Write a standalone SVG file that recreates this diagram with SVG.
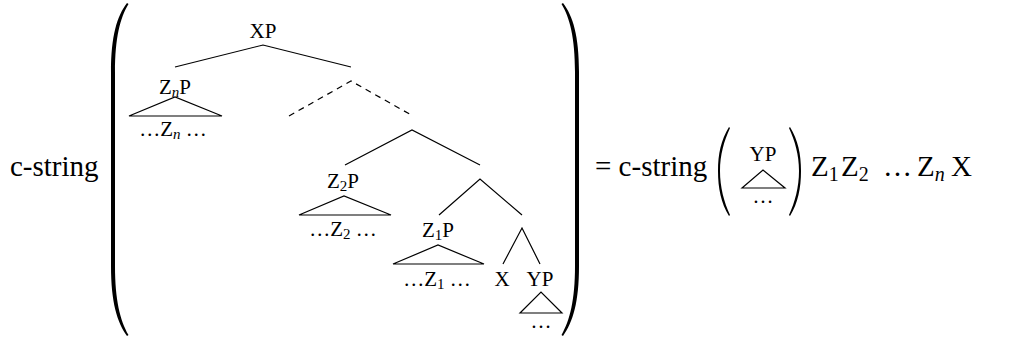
<svg xmlns="http://www.w3.org/2000/svg" width="1014" height="340" viewBox="0 0 1014 340">
<style>
.big{font-size:29px}
.lab{font-size:21px}
.sub{font-size:15px}
.bsub{font-size:20px}
.e{stroke:#000;stroke-width:1.2;fill:none}
.d{stroke:#000;stroke-width:1.2;fill:none;stroke-dasharray:6,5}
.paren{fill:#000;stroke:none}
</style>
<rect width="1014" height="340" fill="#fff"/>
<g font-family="Liberation Serif, Times New Roman, serif" fill="#000">
<g id="lhs-label"><text class="big" x="10" y="176">c-string</text></g>
<g id="big-parens">
<path class="paren" d="M127,3 C117,16 111,36 111,72 L111,266 C111,302 117,322 127,336 L128.5,335 C120,320 115,300 115,266 L115,72 C115,38 120,18 128.5,4 Z"/>
<path class="paren" d="M563,3 C573,16 579,36 579,72 L579,266 C579,302 573,322 563,336 L561.5,335 C570,320 575,300 575,266 L575,72 C575,38 570,18 561.5,4 Z"/>
</g>
<g id="connectors">
<path class="e" d="M175,67 L263,45 L351,67"/>
<path class="d" d="M289,116 L351,81 L413,116"/>
<path class="e" d="M345,165 L412,130 L480,165"/>
<path class="e" d="M439,215 L480,179 L522,215"/>
<path class="e" d="M503,264 L522,228 L540,264"/>
</g>
<g id="XP"><text class="lab" x="263" y="38" text-anchor="middle">XP</text></g>
<g id="ZnP">
<text class="lab" x="175" y="94" text-anchor="middle">Z<tspan class="sub" font-style="italic" dy="3">n</tspan><tspan dy="-3">P</tspan></text>
<path class="e" d="M129,116 L175,97 L222,116 Z"/>
<text class="lab" x="173" y="136" text-anchor="middle">…Z<tspan class="sub" font-style="italic" dy="3">n</tspan><tspan dy="-3"> …</tspan></text>
</g>
<g id="Z2P">
<text class="lab" x="343" y="188" text-anchor="middle">Z<tspan class="sub" dy="3">2</tspan><tspan dy="-3">P</tspan></text>
<path class="e" d="M299,215 L344,196 L391,215 Z"/>
<text class="lab" x="343" y="236" text-anchor="middle">…Z<tspan class="sub" dy="3">2</tspan><tspan dy="-3"> …</tspan></text>
</g>
<g id="Z1P">
<text class="lab" x="438" y="237" text-anchor="middle">Z<tspan class="sub" dy="3">1</tspan><tspan dy="-3">P</tspan></text>
<path class="e" d="M393,264 L438,245 L484,264 Z"/>
<text class="lab" x="437" y="286" text-anchor="middle">…Z<tspan class="sub" dy="3">1</tspan><tspan dy="-3"> …</tspan></text>
</g>
<g id="X"><text class="lab" x="502" y="286" text-anchor="middle">X</text></g>
<g id="YP">
<text class="lab" x="540" y="286" text-anchor="middle">YP</text>
<path class="e" d="M520,313 L541,292 L562,313 Z"/>
<text class="lab" x="541" y="328" text-anchor="middle">…</text>
</g>
<g id="rhs">
<text class="big" x="595" y="176">= c-string</text>
<path class="paren" d="M729,127 C721,140 718,154 718,171 C718,188 721,203 729,216 L730,215 C724,202 720,187 720,171 C720,155 724,141 730,128 Z"/>
<text class="lab" x="763" y="161" text-anchor="middle">YP</text>
<path class="e" d="M742,188 L763,170 L785,188 Z"/>
<text class="lab" x="763" y="203" text-anchor="middle">…</text>
<path class="paren" d="M790,127 C798,140 801,154 801,171 C801,188 798,203 790,216 L789,215 C795,202 799,187 799,171 C799,155 795,141 789,128 Z"/>
<text class="big" x="811" y="176">Z<tspan class="bsub" dy="5">1</tspan></text>
<text class="big" x="841" y="176">Z<tspan class="bsub" dy="5">2</tspan></text>
<text class="big" x="883" y="176">…</text>
<text class="big" x="917" y="176">Z<tspan class="bsub" font-style="italic" dy="5">n</tspan></text>
<text class="big" x="951" y="176">X</text>
</g>
</g>
</svg>
